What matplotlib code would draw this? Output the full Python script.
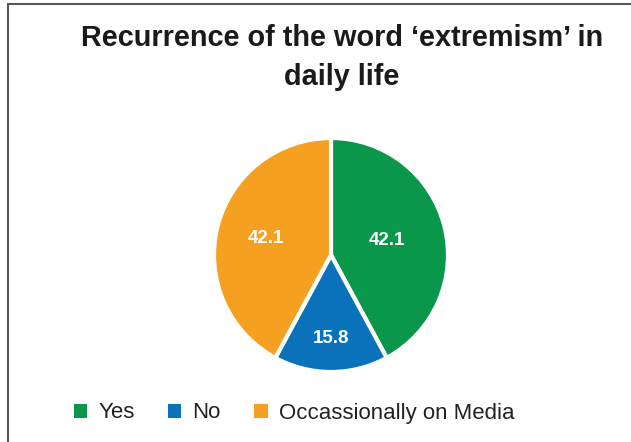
import numpy as np
import matplotlib.pyplot as plt
from matplotlib.patches import Rectangle

labels = ['Yes', 'No', 'Occassionally on Media']
values = [42.1, 15.8, 42.1]
colors = ['#0a974b', '#0a72bb', '#f5a020']

# how far out each value label sits, as a fraction of the radius
label_dist = [0.49, 0.71, 0.57]

plt.rcParams['font.family'] = ['Liberation Sans', 'DejaVu Sans']

fig = plt.figure(figsize=(6.31, 4.42), dpi=100)

# outer frame (runs off the right and bottom edges)
fig.patches.append(Rectangle((8 / 631, -0.1), 1.1, 1 - 4 / 442 + 0.1,
                             transform=fig.transFigure, fill=False,
                             edgecolor='#555555', linewidth=1.5))

fig.text(342 / 631, 1 - 38 / 442, 'Recurrence of the word \u2018extremism\u2019 in',
         ha='center', va='center', fontsize=20.8, fontweight='bold', color='#1a1a1a')
fig.text(342 / 631, 1 - 77 / 442, 'daily life',
         ha='center', va='center', fontsize=20.8, fontweight='bold', color='#1a1a1a')

r = 117
ax = fig.add_axes([(331 - r) / 631, 1 - (255 + r) / 442, 2 * r / 631, 2 * r / 442])
wedges, _ = ax.pie(values, colors=colors, startangle=90, counterclock=False,
                   wedgeprops=dict(edgecolor='white', linewidth=3), radius=1)
ax.set_xlim(-1, 1)
ax.set_ylim(-1, 1)
ax.set_aspect('auto')

for w, v, d in zip(wedges, values, label_dist):
    mid = np.deg2rad((w.theta1 + w.theta2) / 2)
    ax.text(d * np.cos(mid), d * np.sin(mid), f'{v:.1f}', ha='center', va='center',
            color='white', fontsize=13.5, fontweight='bold')

leg = fig.legend(wedges, labels, loc='center', bbox_to_anchor=(294 / 631, 1 - 413 / 442),
                 ncol=3, frameon=False, fontsize=16, handlelength=0.6, handleheight=0.6,
                 handletextpad=0.5, columnspacing=1.5)
for h in leg.legend_handles:
    h.set_edgecolor('none')
for t in leg.get_texts():
    t.set_color('#222222')

fig.savefig('out.png', dpi=100)
